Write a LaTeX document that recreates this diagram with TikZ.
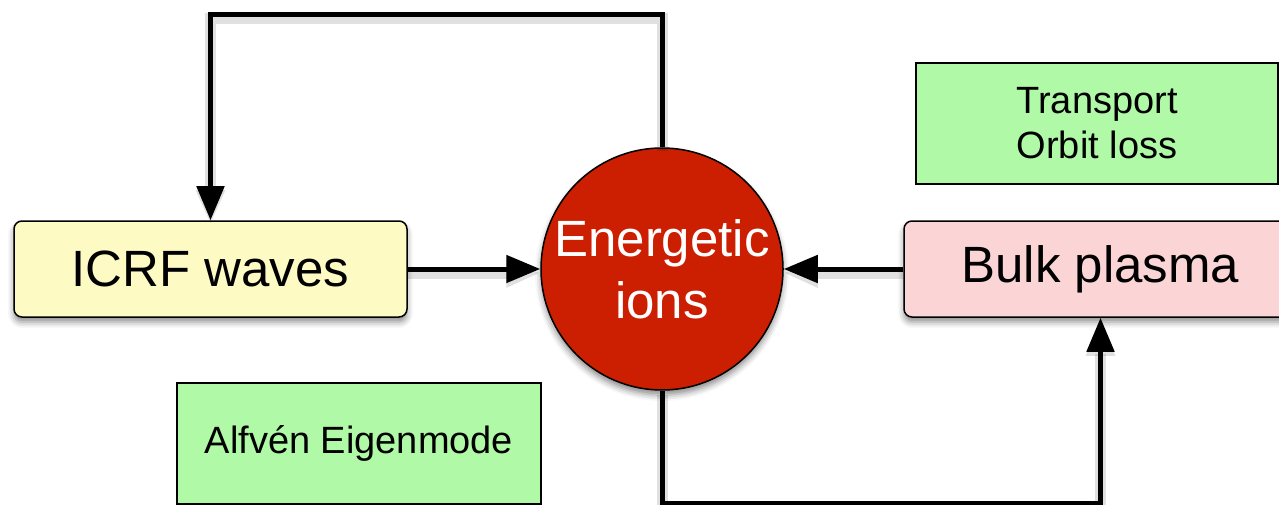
\documentclass[tikz,border=0pt]{standalone}
\usepackage{fontspec}
\setmainfont{Liberation Sans}
\usetikzlibrary{arrows.meta,shadows.blur}
\definecolor{icrffill}{HTML}{FDFAC4}
\definecolor{bulkfill}{HTML}{FBD5D5}
\definecolor{notefill}{HTML}{B0F9A6}
\definecolor{ionfill}{HTML}{CC1E00}

\begin{document}
\begin{tikzpicture}[x=1pt,y=-1pt,
  softshadow/.style={blur shadow={shadow xshift=0pt, shadow yshift=-5pt,
      shadow blur radius=6pt, shadow opacity=45}},
  box/.style={draw=black, line width=1.5pt, rounded corners=8pt,
      minimum width=393pt, minimum height=96pt, inner sep=0pt,
      font=\fontsize{51}{58}\selectfont, softshadow},
  note/.style={draw=black, line width=1.5pt, fill=notefill,
      minimum height=121pt, inner sep=0pt, align=center,
      font=\fontsize{38}{45}\selectfont},
  ionnode/.style={circle, draw=black, line width=1.5pt, fill=ionfill,
      minimum size=242pt, inner sep=0pt, align=center, text=white,
      font=\fontsize{51}{62}\selectfont, softshadow},
  conn/.style={line width=5pt, line join=miter,
      -{Triangle[length=34pt,width=27pt]},
      preaction={draw=black, opacity=0.12, line width=11pt,
        transform canvas={yshift=-4pt}}}
]
\useasboundingbox (0,0) rectangle (1279,505);
\clip (0,0) rectangle (1279,505);

% turning heights of the two feedback loops
\coordinate (topy) at (0,15);
\coordinate (boty) at (0,503);

% notes
\node[note, minimum width=362pt] (trans) at (1097,123.5) {Transport\\Orbit loss};
\node[note, minimum width=364pt] (alf) at (359,443.5) {Alfvén Eigenmode};

% main blocks
\node[box, fill=icrffill] (icrf) at (210.5,269) {ICRF waves};
\node[box, fill=bulkfill] (bulk) at (1100.5,269) {Bulk plasma};
\node[ionnode] (ion) at (662,269) {Energetic\\ions};

% connectors
\draw[conn] (icrf.east) -- (ion.west);
\draw[conn] (bulk.west) -- (ion.east);
\draw[conn] (ion.north) -- (ion.north |- topy) -| (icrf.north);
\draw[conn] (ion.south) -- (ion.south |- boty) -| (bulk.south);
\end{tikzpicture}
\end{document}
